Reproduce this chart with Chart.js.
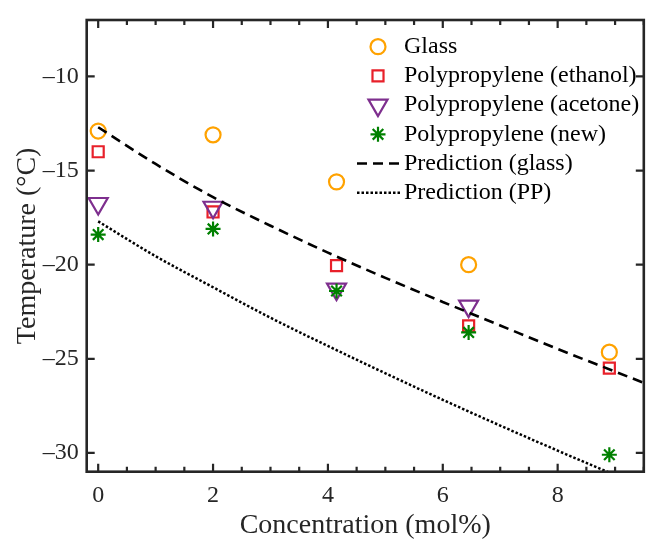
<!DOCTYPE html>
<html>
<head>
<meta charset="utf-8">
<script src="https://cdn.jsdelivr.net/npm/chart.js@4.4.0/dist/chart.umd.min.js"></script>
<style>
  html, body { margin: 0; padding: 0; background: #fff; }
  #wrap { width: 657px; height: 541px; }
</style>
</head>
<body>
<div id="wrap"><canvas id="myChart" width="657" height="541"></canvas></div>
<script>
'use strict'
// measured freezing temperatures (°C) against concentration (mol%)
const concentration = [0, 2, 4.15, 6.45, 8.9]
const glass = [-12.9, -13.1, -15.6, -20.0, -24.65]
const ppEthanol = [-14.0, -17.2, -20.05, -23.25, -25.5]
const acetoneConc = [0, 2, 4.15, 6.45]
const ppAcetone = [-16.75, -16.95, -21.3, -22.2]
const ppNew = [-18.4, -18.1, -21.4, -23.6, -30.1]

// model curves
const predConc = [0, 1, 2, 3, 4, 5, 6, 7, 8, 9, 9.5]
const predGlass = [-12.7, -14.65, -16.41, -17.93, -19.36, -20.7, -21.98, -23.23, -24.48, -25.68, -26.28]
const predPP = [-17.7, -19.55, -21.2, -22.82, -24.32, -25.77, -27.18, -28.55, -29.88, -31.18, -31.82]

// axis ticks
const xTicks = [0, 2, 4, 6, 8]
const yTicks = [-30, -25, -20, -15, -10]

const ink = '#262626'
const serif = "'Liberation Serif', 'Times New Roman', serif"

const pts = (xs, ys) => xs.map((x, i) => ({ x: x, y: ys[i] }))

const markerSet = (label, xs, ys, color, style, radius, order, rotation) => ({
  label: label,
  data: pts(xs, ys),
  showLine: false,
  pointStyle: style,
  pointRadius: radius,
  pointRotation: rotation || 0,
  pointBorderWidth: 2.2,
  pointBorderColor: color,
  pointBackgroundColor: 'rgba(0,0,0,0)',
  borderColor: color,
  order: order
})

const lineSet = (label, ys, dash, width, order) => ({
  label: label,
  data: pts(predConc, ys),
  showLine: true,
  borderColor: '#000',
  borderWidth: width,
  borderDash: dash,
  borderCapStyle: 'butt',
  pointRadius: 0,
  cubicInterpolationMode: 'monotone',
  clip: 0,
  order: order
})

const datasets = [
  markerSet('Glass', concentration, glass, '#FFA200', 'circle', 7.5, 6),
  markerSet('Polypropylene (ethanol)', concentration, ppEthanol, '#E8202A', 'rect', 7.8, 5),
  markerSet('Polypropylene (acetone)', acetoneConc, ppAcetone, '#7E2F8E', 'triangle', 11, 4, 180),
  markerSet('Polypropylene (new)', concentration, ppNew, '#008000', 'star', 7.5, 3),
  lineSet('Prediction (glass)', predGlass, [10, 6], 2.6, 2),
  lineSet('Prediction (PP)', predPP, [2.5, 2], 2.5, 1)
]

// box with inward ticks on all four sides, minor ticks every 0.5 on x
const frame = {
  id: 'frame',
  afterDraw(chart) {
    const { ctx, chartArea: a } = chart
    const x = chart.scales.x
    const y = chart.scales.y
    ctx.save()
    ctx.setLineDash([])
    ctx.lineCap = 'butt'
    ctx.strokeStyle = ink
    ctx.lineWidth = 2.2
    ctx.beginPath()
    for (let v = 0; v <= 9.5; v += 0.5) {
      const px = x.getPixelForValue(v)
      const len = xTicks.includes(v) ? 8 : 5
      ctx.moveTo(px, a.bottom)
      ctx.lineTo(px, a.bottom - len)
      ctx.moveTo(px, a.top)
      ctx.lineTo(px, a.top + len)
    }
    for (const v of yTicks) {
      const py = y.getPixelForValue(v)
      ctx.moveTo(a.left, py)
      ctx.lineTo(a.left + 8, py)
      ctx.moveTo(a.right, py)
      ctx.lineTo(a.right - 8, py)
    }
    ctx.stroke()
    ctx.lineWidth = 2.6
    ctx.strokeRect(a.left, a.top, a.right - a.left, a.bottom - a.top)
    ctx.restore()
  }
}

// legend in the upper right, no box
const legendBox = {
  id: 'legendBox',
  afterDraw(chart) {
    const ctx = chart.ctx
    const rowY = 46.7
    const rowStep = 29.2
    ctx.save()
    ctx.font = '24px ' + serif
    ctx.textBaseline = 'middle'
    chart.data.datasets.forEach((ds, i) => {
      const yy = rowY + i * rowStep
      if (ds.showLine) {
        ctx.strokeStyle = ds.borderColor
        ctx.lineWidth = ds.borderWidth
        ctx.setLineDash(ds.borderDash)
        ctx.beginPath()
        ctx.moveTo(357, yy)
        ctx.lineTo(401, yy)
        ctx.stroke()
        ctx.setLineDash([])
      } else {
        ctx.strokeStyle = ds.pointBorderColor
        ctx.fillStyle = 'rgba(0,0,0,0)'
        ctx.lineWidth = ds.pointBorderWidth
        Chart.helpers.drawPoint(ctx, {
          pointStyle: ds.pointStyle,
          rotation: ds.pointRotation,
          radius: ds.pointRadius,
          borderWidth: ds.pointBorderWidth
        }, 378, yy)
      }
      ctx.fillStyle = '#000'
      ctx.fillText(ds.label, 404, yy)
    })
    ctx.restore()
  }
}

const dash = (v) => String(v).replace('-', '\u2013')

new Chart(document.getElementById('myChart'), {
  type: 'scatter',
  data: { datasets: datasets },
  plugins: [frame, legendBox],
  options: {
    responsive: false,
    animation: false,
    devicePixelRatio: 1,
    layout: { padding: { top: 15, right: 1, left: 0, bottom: 0 } },
    plugins: { legend: { display: false }, tooltip: { enabled: false } },
    scales: {
      x: {
        type: 'linear',
        min: -0.2,
        max: 9.5,
        afterBuildTicks: (s) => { s.ticks = xTicks.map((v) => ({ value: v })) },
        afterFit: (s) => { s.height = 69.3 },
        grid: { display: false, drawTicks: false },
        border: { display: false },
        ticks: { color: ink, padding: 12, maxRotation: 0, font: { family: serif, size: 24, lineHeight: 1 }, callback: dash },
        title: { display: true, text: 'Concentration (mol%)', color: ink, padding: { top: 0, bottom: 1 }, font: { family: serif, size: 28, lineHeight: 1 } }
      },
      y: {
        type: 'linear',
        min: -31,
        max: -7,
        afterBuildTicks: (s) => { s.ticks = yTicks.map((v) => ({ value: v })) },
        afterFit: (s) => { s.width = 86.7 },
        grid: { display: false, drawTicks: false },
        border: { display: false },
        ticks: { color: ink, padding: 8, font: { family: serif, size: 24, lineHeight: 1 }, callback: dash },
        title: { display: true, text: 'Temperature (°C)', color: ink, padding: { top: 14, bottom: 0 }, font: { family: serif, size: 28, lineHeight: 1 } }
      }
    }
  }
})
</script>
</body>
</html>
